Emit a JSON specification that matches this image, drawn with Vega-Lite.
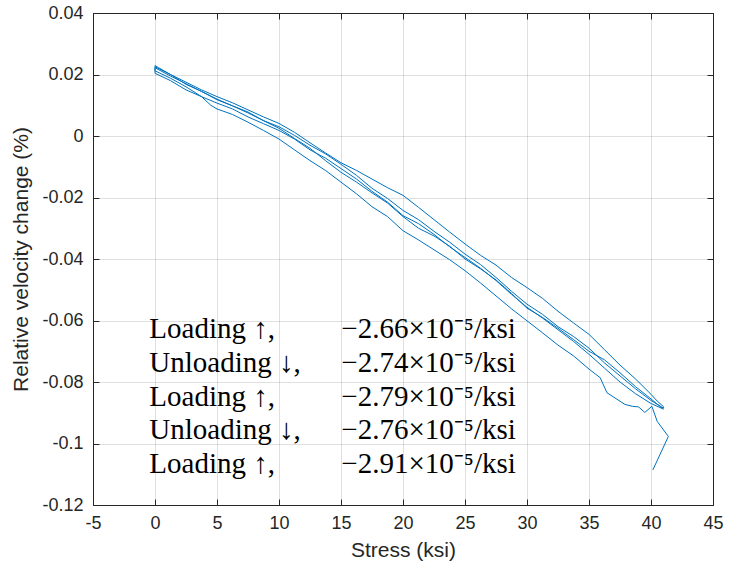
{
  "$schema": "https://vega.github.io/schema/vega-lite/v6.json",
  "width": 620,
  "height": 492,
  "autosize": {"type": "none"},
  "padding": {"left": 93, "top": 13, "right": 16, "bottom": 66},
  "background": "white",
  "config": {
    "view": {"stroke": null},
    "axis": {
      "labelFont": "Liberation Sans",
      "titleFont": "Liberation Sans",
      "labelFontSize": 18,
      "titleFontSize": 21,
      "titleFontWeight": "normal",
      "labelColor": "#262626",
      "titleColor": "#262626",
      "domainColor": "#262626",
      "tickColor": "#262626",
      "gridColor": "#262626",
      "gridOpacity": 0.15,
      "domainWidth": 1,
      "tickWidth": 1
    }
  },
  "datasets": {
    "curve": [
      {"s":0,"v":0.0225,"i":0},{"s":1.25,"v":0.0200,"i":1},{"s":2.5,"v":0.0168,"i":2},{"s":3.75,"v":0.0145,"i":3},{"s":5,"v":0.0118,"i":4},{"s":6.25,"v":0.0098,"i":5},{"s":7.5,"v":0.0075,"i":6},{"s":8.75,"v":0.0050,"i":7},{"s":10,"v":0.0030,"i":8},{"s":11.25,"v":0.0002,"i":9},{"s":12.5,"v":-0.0030,"i":10},{"s":13.75,"v":-0.0058,"i":11},{"s":15,"v":-0.0092,"i":12},{"s":16.25,"v":-0.0128,"i":13},{"s":17.5,"v":-0.0170,"i":14},{"s":18.75,"v":-0.0203,"i":15},{"s":20,"v":-0.0242,"i":16},{"s":21.25,"v":-0.0272,"i":17},{"s":22.5,"v":-0.0310,"i":18},{"s":23.75,"v":-0.0345,"i":19},{"s":25,"v":-0.0384,"i":20},{"s":26.25,"v":-0.0418,"i":21},{"s":27.5,"v":-0.0460,"i":22},{"s":28.75,"v":-0.0505,"i":23},{"s":30,"v":-0.0547,"i":24},{"s":31.25,"v":-0.0580,"i":25},{"s":32.5,"v":-0.0620,"i":26},{"s":33.75,"v":-0.0652,"i":27},{"s":35,"v":-0.0690,"i":28},{"s":36.25,"v":-0.0738,"i":29},{"s":37.5,"v":-0.0780,"i":30},{"s":38.75,"v":-0.0822,"i":31},{"s":40,"v":-0.0860,"i":32},{"s":41,"v":-0.0885,"i":33},
      {"s":41,"v":-0.0880,"i":34},{"s":40.5,"v":-0.0862,"i":35},{"s":40,"v":-0.0840,"i":36},{"s":38.75,"v":-0.0790,"i":37},{"s":37.5,"v":-0.0745,"i":38},{"s":36.25,"v":-0.0695,"i":39},{"s":35,"v":-0.0645,"i":40},{"s":33.75,"v":-0.0608,"i":41},{"s":32.5,"v":-0.0570,"i":42},{"s":31.25,"v":-0.0528,"i":43},{"s":30,"v":-0.0493,"i":44},{"s":28.75,"v":-0.0460,"i":45},{"s":27.5,"v":-0.0420,"i":46},{"s":26.25,"v":-0.0388,"i":47},{"s":25,"v":-0.0351,"i":48},{"s":23.75,"v":-0.0312,"i":49},{"s":22.5,"v":-0.0272,"i":50},{"s":21.25,"v":-0.0232,"i":51},{"s":20,"v":-0.0193,"i":52},{"s":18.75,"v":-0.0168,"i":53},{"s":17.5,"v":-0.0140,"i":54},{"s":16.25,"v":-0.0112,"i":55},{"s":15,"v":-0.0087,"i":56},{"s":13.75,"v":-0.0055,"i":57},{"s":12.5,"v":-0.0022,"i":58},{"s":11.25,"v":0.0012,"i":59},{"s":10,"v":0.0041,"i":60},{"s":8.75,"v":0.0062,"i":61},{"s":7.5,"v":0.0085,"i":62},{"s":6.25,"v":0.0108,"i":63},{"s":5,"v":0.0128,"i":64},{"s":3.75,"v":0.0150,"i":65},{"s":2.5,"v":0.0175,"i":66},{"s":1.25,"v":0.0200,"i":67},{"s":0.3,"v":0.0222,"i":68},{"s":0,"v":0.0229,"i":69},
      {"s":0,"v":0.0212,"i":70},{"s":1.25,"v":0.0188,"i":71},{"s":2.5,"v":0.0160,"i":72},{"s":3.75,"v":0.0128,"i":73},{"s":5,"v":0.0107,"i":74},{"s":6.25,"v":0.0088,"i":75},{"s":7.5,"v":0.0062,"i":76},{"s":8.75,"v":0.0040,"i":77},{"s":10,"v":0.0018,"i":78},{"s":11.25,"v":-0.0010,"i":79},{"s":12.5,"v":-0.0045,"i":80},{"s":13.75,"v":-0.0072,"i":81},{"s":15,"v":-0.0106,"i":82},{"s":16.25,"v":-0.0140,"i":83},{"s":17.5,"v":-0.0180,"i":84},{"s":18.75,"v":-0.0215,"i":85},{"s":20,"v":-0.0259,"i":86},{"s":21.25,"v":-0.0285,"i":87},{"s":22.5,"v":-0.0320,"i":88},{"s":23.75,"v":-0.0360,"i":89},{"s":25,"v":-0.0395,"i":90},{"s":26.25,"v":-0.0430,"i":91},{"s":27.5,"v":-0.0470,"i":92},{"s":28.75,"v":-0.0515,"i":93},{"s":30,"v":-0.0557,"i":94},{"s":31.25,"v":-0.0592,"i":95},{"s":32.5,"v":-0.0630,"i":96},{"s":33.75,"v":-0.0668,"i":97},{"s":35,"v":-0.0710,"i":98},{"s":36.25,"v":-0.0755,"i":99},{"s":37.5,"v":-0.0800,"i":100},{"s":38.75,"v":-0.0838,"i":101},{"s":40,"v":-0.0870,"i":102},{"s":41,"v":-0.0888,"i":103},
      {"s":40.5,"v":-0.0872,"i":104},{"s":40,"v":-0.0855,"i":105},{"s":38.75,"v":-0.0815,"i":106},{"s":37.5,"v":-0.0770,"i":107},{"s":36.25,"v":-0.0728,"i":108},{"s":35,"v":-0.0700,"i":109},{"s":33.75,"v":-0.0662,"i":110},{"s":32.5,"v":-0.0625,"i":111},{"s":31.25,"v":-0.0590,"i":112},{"s":30,"v":-0.0560,"i":113},{"s":28.75,"v":-0.0512,"i":114},{"s":27.5,"v":-0.0468,"i":115},{"s":26.25,"v":-0.0432,"i":116},{"s":25,"v":-0.0400,"i":117},{"s":23.75,"v":-0.0358,"i":118},{"s":22.5,"v":-0.0325,"i":119},{"s":21.25,"v":-0.0300,"i":120},{"s":20,"v":-0.0262,"i":121},{"s":18.75,"v":-0.0218,"i":122},{"s":17.5,"v":-0.0185,"i":123},{"s":16.25,"v":-0.0150,"i":124},{"s":15,"v":-0.0118,"i":125},{"s":13.75,"v":-0.0080,"i":126},{"s":12.5,"v":-0.0040,"i":127},{"s":11.25,"v":-0.0008,"i":128},{"s":10,"v":0.0025,"i":129},{"s":8.75,"v":0.0050,"i":130},{"s":7.5,"v":0.0078,"i":131},{"s":6.25,"v":0.0098,"i":132},{"s":5,"v":0.0120,"i":133},{"s":3.75,"v":0.0145,"i":134},{"s":2.5,"v":0.0170,"i":135},{"s":1.25,"v":0.0195,"i":136},{"s":0,"v":0.0222,"i":137},
      {"s":0,"v":0.0204,"i":138},{"s":1.25,"v":0.0180,"i":139},{"s":2.5,"v":0.0150,"i":140},{"s":3.75,"v":0.0128,"i":141},{"s":4.5,"v":0.0100,"i":142},{"s":5,"v":0.0088,"i":143},{"s":6.25,"v":0.0070,"i":144},{"s":7.5,"v":0.0045,"i":145},{"s":8.75,"v":0.0018,"i":146},{"s":10,"v":-0.0010,"i":147},{"s":11.25,"v":-0.0045,"i":148},{"s":12.5,"v":-0.0080,"i":149},{"s":13.75,"v":-0.0112,"i":150},{"s":15,"v":-0.0150,"i":151},{"s":16.25,"v":-0.0188,"i":152},{"s":17.5,"v":-0.0230,"i":153},{"s":18.75,"v":-0.0262,"i":154},{"s":20,"v":-0.0308,"i":155},{"s":21.25,"v":-0.0338,"i":156},{"s":22.5,"v":-0.0370,"i":157},{"s":23.75,"v":-0.0402,"i":158},{"s":25,"v":-0.0438,"i":159},{"s":26.25,"v":-0.0478,"i":160},{"s":27.5,"v":-0.0520,"i":161},{"s":28.75,"v":-0.0562,"i":162},{"s":30,"v":-0.0601,"i":163},{"s":31.25,"v":-0.0640,"i":164},{"s":32.5,"v":-0.0680,"i":165},{"s":33.75,"v":-0.0715,"i":166},{"s":35,"v":-0.0758,"i":167},{"s":35.9,"v":-0.0786,"i":168},{"s":36.45,"v":-0.0835,"i":169},{"s":37.9,"v":-0.0873,"i":170},{"s":38.5,"v":-0.0879,"i":171},{"s":39,"v":-0.0881,"i":172},{"s":39.5,"v":-0.0899,"i":173},{"s":40.07,"v":-0.0879,"i":174},{"s":40.5,"v":-0.0928,"i":175},{"s":41.4,"v":-0.0977,"i":176},{"s":40.15,"v":-0.1086,"i":177}
    ],
    "notes": [
      {"tx":-0.46,"ty":-0.0629,"t":"Loading ↑,"},
      {"tx":-0.46,"ty":-0.0738,"t":"Unloading ↓,"},
      {"tx":-0.46,"ty":-0.0849,"t":"Loading ↑,"},
      {"tx":-0.46,"ty":-0.0957,"t":"Unloading ↓,"},
      {"tx":-0.46,"ty":-0.1066,"t":"Loading ↑,"},
      {"tx":15.03,"ty":-0.0629,"t":"−2.66×10⁻⁵/ksi"},
      {"tx":15.03,"ty":-0.0738,"t":"−2.74×10⁻⁵/ksi"},
      {"tx":15.03,"ty":-0.0849,"t":"−2.79×10⁻⁵/ksi"},
      {"tx":15.03,"ty":-0.0957,"t":"−2.76×10⁻⁵/ksi"},
      {"tx":15.03,"ty":-0.1066,"t":"−2.91×10⁻⁵/ksi"}
    ]
  },
  "resolve": {"axis": {"x": "independent", "y": "independent"}},
  "layer": [
    {
      "data": {"name": "curve"},
      "mark": {"type": "line", "color": "#0072BD", "strokeWidth": 1, "clip": true},
      "encoding": {
        "x": {
          "field": "s", "type": "quantitative",
          "scale": {"domain": [-5, 45], "nice": false, "zero": false},
          "axis": {
            "title": "Stress (ksi)", "orient": "bottom", "grid": true,
            "values": [-5,0,5,10,15,20,25,30,35,40,45],
            "labelExpr": "replace(format(datum.value, '~g'), '−', '-')",
            "tickSize": -6, "labelPadding": 15, "titlePadding": 7,
            "labelFlush": false, "labelOverlap": false
          }
        },
        "y": {
          "field": "v", "type": "quantitative",
          "scale": {"domain": [-0.12, 0.04], "nice": false, "zero": false},
          "axis": {
            "title": "Relative velocity change (%)", "orient": "left", "grid": true,
            "values": [-0.12,-0.1,-0.08,-0.06,-0.04,-0.02,0,0.02,0.04],
            "labelExpr": "replace(format(datum.value, '.2~f'), '−', '-')",
            "tickSize": -6, "labelPadding": 16, "titlePadding": 10,
            "labelFlush": false, "labelOverlap": false
          }
        },
        "order": {"field": "i", "type": "quantitative"}
      }
    },
    {
      "data": {"name": "notes"},
      "mark": {"type": "text", "font": "Liberation Serif", "fontSize": 29, "align": "left", "baseline": "middle", "color": "#000000"},
      "encoding": {
        "x": {
          "field": "tx", "type": "quantitative",
          "axis": {"orient": "top", "title": null, "labels": false, "grid": false, "values": [-5,0,5,10,15,20,25,30,35,40,45], "tickSize": -6}
        },
        "y": {
          "field": "ty", "type": "quantitative",
          "axis": {"orient": "right", "title": null, "labels": false, "grid": false, "values": [-0.12,-0.1,-0.08,-0.06,-0.04,-0.02,0,0.02,0.04], "tickSize": -6}
        },
        "text": {"field": "t", "type": "nominal"}
      }
    }
  ]
}
